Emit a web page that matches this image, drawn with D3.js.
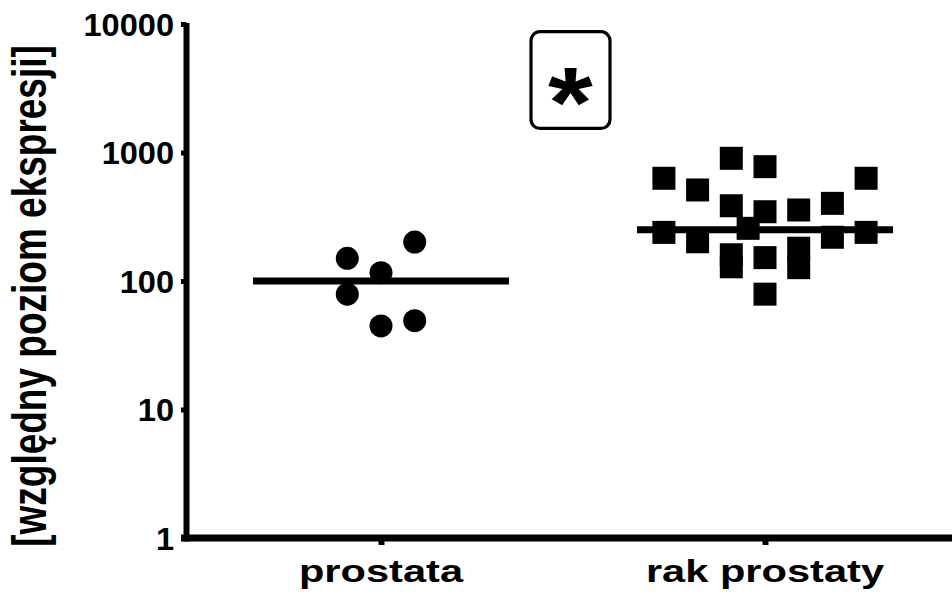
<!DOCTYPE html>
<html>
<head>
<meta charset="utf-8">
<script src="https://cdn.jsdelivr.net/npm/d3@7/dist/d3.min.js"></script>
<style>
  body { margin: 0; background: #fff; }
  svg text { font-family: "Liberation Sans", Arial, sans-serif; font-weight: bold; fill: #000; }
</style>
</head>
<body>
<div id="chart"></div>
<script>
// groups on the x axis
const categories = ["prostata", "rak prostaty"];
const yTicks = [1, 10, 100, 1000, 10000];
const yTitle = "[względny poziom ekspresji]";
const signif = "*";

// values, with the column slot each dot sits in
const prostataValues = [201, 150, 116, 79, 44.7, 49.1];
const prostataSlots  = [1, -1, 0, -1, 0, 1];
const rakValues = [630, 511, 901, 776, 630, 385, 346, 357, 402, 239, 202, 257, 219, 239, 160, 129, 152, 180, 127, 79];
const rakSlots  = [-3, -2, -1, 0, 3, -1, 0, 1, 2, -3, -2, -0.5, 2, 3, -1, -1, 0, 1, 1, 0];
const centerLines = [100, 250];

const width = 952, height = 596;
const axisX = 186.5, axisY = 538;

const svg = d3.select("#chart").append("svg")
    .attr("width", width)
    .attr("height", height);

const y = d3.scaleLog()
    .domain([1, 10000])
    .range([axisY, 24]);

const x = d3.scalePoint()
    .domain(categories)
    .range([189, 957])
    .padding(0.5);

const slotStep = 33.7;

// y axis
const yAxis = svg.append("g")
    .attr("transform", "translate(" + axisX + ",0)")
    .call(d3.axisLeft(y).tickValues(yTicks).tickSize(5.5).tickSizeOuter(0).tickFormat(d3.format("d")));
yAxis.select(".domain").attr("stroke", "#000").attr("stroke-width", 6)
    .attr("d", "M0," + (axisY + 3.5) + "V" + (y(10000) - 1));
yAxis.selectAll(".tick line").attr("stroke", "#000").attr("stroke-width", 5).attr("x1", -5.5).attr("x2", 0);
yAxis.selectAll(".tick text")
    .attr("x", 0).attr("dy", null)
    .attr("y", 11)
    .attr("font-size", 31)
    .attr("text-anchor", "end")
    .attr("transform", "translate(-12.5,0) scale(1.05,1)");

// x axis
const xAxis = svg.append("g")
    .attr("transform", "translate(0," + axisY + ")")
    .call(d3.axisBottom(x).tickSize(7).tickSizeOuter(0).tickFormat(""));
xAxis.select(".domain").attr("stroke", "#000").attr("stroke-width", 7)
    .attr("d", "M" + (axisX - 5.5) + ",0H" + width);
xAxis.selectAll(".tick line").attr("stroke", "#000").attr("stroke-width", 6).attr("y1", 0);

svg.selectAll(".xlabel")
    .data(categories)
    .enter()
    .append("text")
    .attr("class", "xlabel")
    .attr("font-size", 32)
    .attr("text-anchor", "middle")
    .attr("transform", d => "translate(" + x(d) + ",581.5) scale(1.3,1)")
    .text(d => d);

// y title
svg.append("text")
    .attr("font-size", 37)
    .attr("text-anchor", "middle")
    .attr("transform", "translate(46,296) rotate(-90) scale(1,1.3)")
    .text(yTitle);

// center lines
svg.selectAll(".mean")
    .data(centerLines)
    .enter()
    .append("line")
    .attr("class", "mean")
    .attr("x1", (d, i) => x(categories[i]) - 128)
    .attr("x2", (d, i) => x(categories[i]) + 128)
    .attr("y1", d => y(d))
    .attr("y2", d => y(d))
    .attr("stroke", "#000")
    .attr("stroke-width", 7);

// circles
const g1 = prostataValues.map((v, i) => ({ v: v, s: prostataSlots[i] }));
svg.selectAll(".dot")
    .data(g1)
    .enter()
    .append("circle")
    .attr("class", "dot")
    .attr("cx", d => x(categories[0]) + d.s * slotStep)
    .attr("cy", d => y(d.v))
    .attr("r", 11.5)
    .attr("fill", "#000");

// squares
const sq = 23;
const g2 = rakValues.map((v, i) => ({ v: v, s: rakSlots[i] }));
svg.selectAll(".sq")
    .data(g2)
    .enter()
    .append("rect")
    .attr("class", "sq")
    .attr("x", d => x(categories[1]) + d.s * slotStep - sq / 2)
    .attr("y", d => y(d.v) - sq / 2)
    .attr("width", sq)
    .attr("height", sq)
    .attr("fill", "#000");

// significance box
svg.append("rect")
    .attr("x", 531)
    .attr("y", 31.7)
    .attr("width", 79)
    .attr("height", 96.7)
    .attr("rx", 9)
    .attr("fill", "none")
    .attr("stroke", "#000")
    .attr("stroke-width", 3.2);

svg.append("text")
    .attr("font-size", 100)
    .attr("text-anchor", "middle")
    .attr("transform", "translate(570.5,137) scale(1.15,1)")
    .text(signif);
</script>
</body>
</html>
